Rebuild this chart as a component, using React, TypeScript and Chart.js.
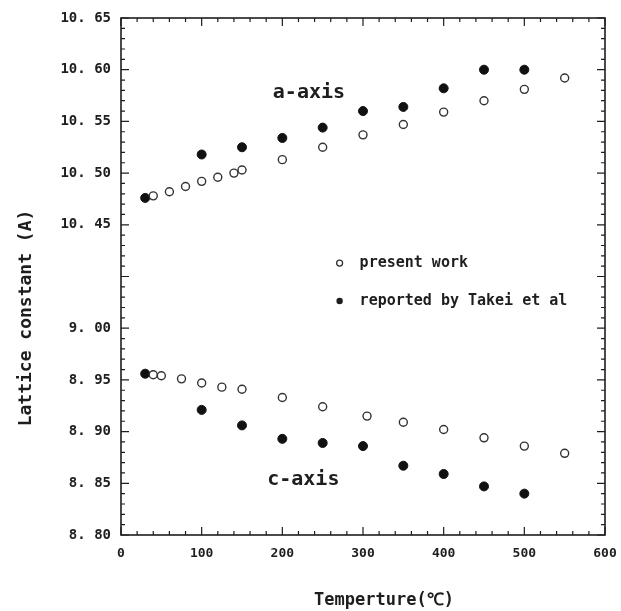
import React, { useEffect, useRef } from "react";
import { Chart, registerables } from "chart.js";

Chart.register(...registerables);

// ---- data (temperatures in °C, lattice constants in Å) ----
const tempAPresent = [40, 60, 80, 100, 120, 140, 150, 200, 250, 300, 350, 400, 450, 500, 550];
const aPresent = [10.478, 10.482, 10.487, 10.492, 10.496, 10.5, 10.503, 10.513, 10.525, 10.537, 10.547, 10.559, 10.57, 10.581, 10.592];

const tempTakei = [30, 100, 150, 200, 250, 300, 350, 400, 450, 500];
const aTakei = [10.476, 10.518, 10.525, 10.534, 10.544, 10.56, 10.564, 10.582, 10.6, 10.6];

const tempCPresent = [40, 50, 75, 100, 125, 150, 200, 250, 305, 350, 400, 450, 500, 550];
const cPresent = [8.955, 8.954, 8.951, 8.947, 8.943, 8.941, 8.933, 8.924, 8.915, 8.909, 8.902, 8.894, 8.886, 8.879];

const cTakei = [8.956, 8.921, 8.906, 8.893, 8.889, 8.886, 8.867, 8.859, 8.847, 8.84];

// broken axis: a-axis values are shifted down onto the shared scale
const A_SHIFT = 1.35;

const xTickValues = [0, 100, 200, 300, 400, 500, 600];
const xTickLabels = ["0", "100", "200", "300", "400", "500", "600"];

const yTickValues = [8.8, 8.85, 8.9, 8.95, 9.0, 9.05, 9.1, 9.15, 9.2, 9.25, 9.3];
const yTickLabels = ["8. 80", "8. 85", "8. 90", "8. 95", "9. 00", "", "10. 45", "10. 50", "10. 55", "10. 60", "10. 65"];

const legendLabels = ["present work", "reported by Takei et al"];
const xTitle = "Temperture(℃)";
const yTitle = "Lattice constant (A)";

const FONT = "'DejaVu Sans Mono', monospace";
const INK = "#1e1e1e";

const decorPlugin = {
  id: "decor",
  afterDatasetsDraw(chart: any) {
    const { ctx, chartArea, scales } = chart;
    const { left, right, top, bottom } = chartArea;
    const x = scales.x;
    const y = scales.y;
    ctx.save();
    ctx.strokeStyle = INK;
    ctx.lineWidth = 1.6;
    ctx.strokeRect(left, top, right - left, bottom - top);
    ctx.lineWidth = 1.2;
    // inward ticks, x
    for (let i = 0; i <= 30; i++) {
      const v = i * 20;
      const px = x.getPixelForValue(v);
      const len = i % 5 === 0 ? 8 : 4;
      ctx.beginPath();
      ctx.moveTo(px, bottom);
      ctx.lineTo(px, bottom - len);
      ctx.moveTo(px, top);
      ctx.lineTo(px, top + len);
      ctx.stroke();
    }
    // inward ticks, y
    for (let i = 0; i <= 50; i++) {
      const v = 8.8 + i * 0.01;
      const py = y.getPixelForValue(v);
      const len = i % 5 === 0 ? 8 : 4;
      ctx.beginPath();
      ctx.moveTo(left, py);
      ctx.lineTo(left + len, py);
      ctx.moveTo(right, py);
      ctx.lineTo(right - len, py);
      ctx.stroke();
    }
    // annotations
    ctx.fillStyle = INK;
    ctx.textBaseline = "middle";
    ctx.textAlign = "center";
    ctx.font = `bold 20px ${FONT}`;
    ctx.fillText("a-axis", x.getPixelForValue(233), y.getPixelForValue(10.5775 - A_SHIFT));
    ctx.fillText("c-axis", x.getPixelForValue(226), y.getPixelForValue(8.853));
    // legend
    const lx = x.getPixelForValue(271);
    const ly1 = y.getPixelForValue(9.063);
    const ly2 = y.getPixelForValue(9.0263);
    ctx.lineWidth = 1.3;
    ctx.strokeStyle = "#333";
    ctx.beginPath();
    ctx.arc(lx, ly1, 3, 0, Math.PI * 2);
    ctx.stroke();
    ctx.beginPath();
    ctx.arc(lx, ly2, 3.2, 0, Math.PI * 2);
    ctx.fill();
    ctx.textAlign = "left";
    ctx.font = `bold 15px ${FONT}`;
    ctx.fillText(legendLabels[0], lx + 20, ly1);
    ctx.fillText(legendLabels[1], lx + 20, ly2);
    // axis titles
    ctx.font = `bold 17px ${FONT}`;
    ctx.textAlign = "center";
    ctx.fillText(xTitle, 384, 601);
    ctx.save();
    ctx.translate(26, 318);
    ctx.rotate(-Math.PI / 2);
    ctx.font = `bold 18px ${FONT}`;
    ctx.fillText(yTitle, 0, 0);
    ctx.restore();
    ctx.restore();
  },
};

export default function App() {
  const ref = useRef<HTMLCanvasElement>(null);
  useEffect(() => {
    document.body.style.margin = "0";
    const openStyle = {
      pointStyle: "circle",
      pointRadius: 4,
      pointBackgroundColor: "#ffffff",
      pointBorderColor: "#333333",
      pointBorderWidth: 1.4,
      showLine: false,
    };
    const filledStyle = {
      pointStyle: "circle",
      pointRadius: 4.5,
      pointBackgroundColor: "#111111",
      pointBorderColor: "#111111",
      pointBorderWidth: 1,
      showLine: false,
    };
    const chart = new Chart(ref.current!, {
      type: "scatter",
      data: {
        datasets: [
          { label: "a present", data: tempAPresent.map((t, i) => ({ x: t, y: aPresent[i] - A_SHIFT })), ...openStyle },
          { label: "a Takei", data: tempTakei.map((t, i) => ({ x: t, y: aTakei[i] - A_SHIFT })), ...filledStyle },
          { label: "c present", data: tempCPresent.map((t, i) => ({ x: t, y: cPresent[i] })), ...openStyle },
          { label: "c Takei", data: tempTakei.map((t, i) => ({ x: t, y: cTakei[i] })), ...filledStyle },
        ] as any,
      },
      options: {
        animation: false,
        responsive: false,
        layout: { padding: { left: 0, top: 18, right: 16, bottom: 0 } },
        plugins: { legend: { display: false }, tooltip: { enabled: false } },
        scales: {
          x: {
            type: "linear",
            min: 0,
            max: 600,
            grid: { display: false, drawTicks: false },
            border: { display: false },
            afterBuildTicks: (s: any) => {
              s.ticks = xTickValues.map((v) => ({ value: v }));
            },
            afterFit: (s: any) => {
              s.height = 76;
              s.paddingLeft = 0;
              s.paddingRight = 0;
            },
            ticks: {
              padding: 11,
              color: INK,
              maxRotation: 0,
              font: { family: FONT, size: 13, weight: "bold" },
              callback: (_v: any, i: number) => xTickLabels[i],
            },
          },
          y: {
            type: "linear",
            min: 8.8,
            max: 9.3,
            grid: { display: false, drawTicks: false },
            border: { display: false },
            afterBuildTicks: (s: any) => {
              s.ticks = yTickValues.map((v) => ({ value: v }));
            },
            afterFit: (s: any) => {
              s.width = 121;
              s.paddingTop = 0;
              s.paddingBottom = 0;
            },
            ticks: {
              padding: 10,
              color: INK,
              font: { family: FONT, size: 14, weight: "bold" },
              callback: (_v: any, i: number) => yTickLabels[i],
            },
          },
        },
      },
      plugins: [decorPlugin],
    } as any);
    return () => chart.destroy();
  }, []);
  return (
    <div style={{ width: 621, height: 611, background: "#fff" }}>
      <canvas ref={ref} width={621} height={611} style={{ display: "block" }} />
    </div>
  );
}
